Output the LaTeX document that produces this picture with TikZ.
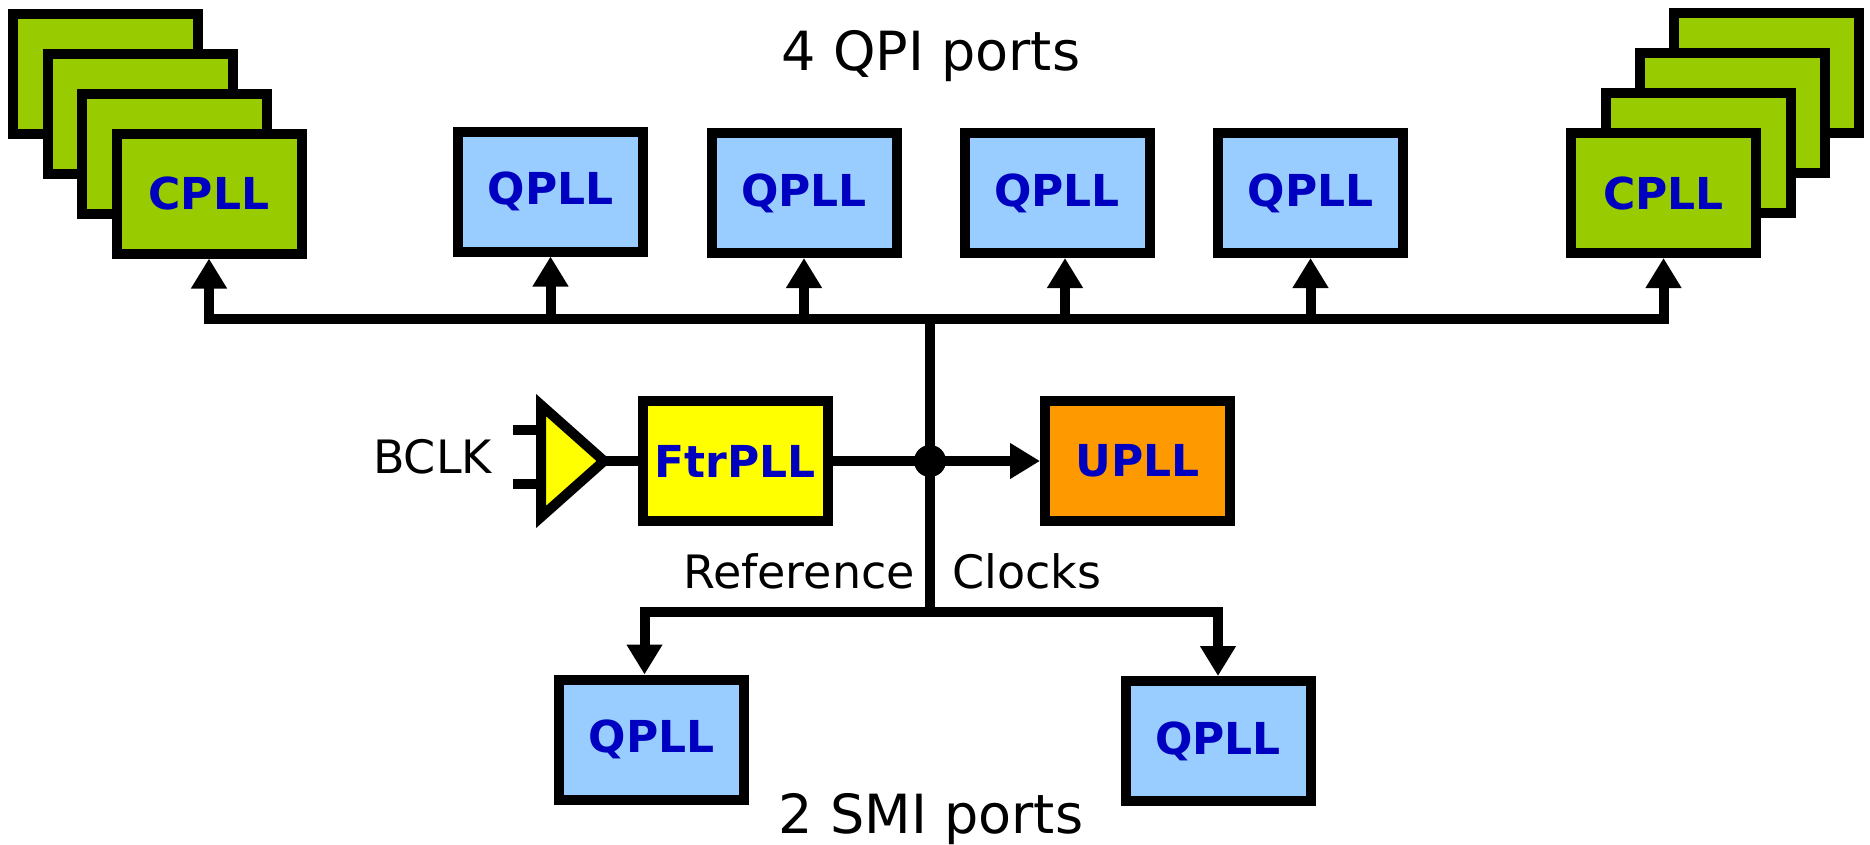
\documentclass[tikz,border=0pt]{standalone}
\usepackage{fontspec}
\setmainfont{DejaVu Sans}
\usetikzlibrary{arrows.meta}
\definecolor{cgreen}{RGB}{153,204,0}
\definecolor{qblue}{RGB}{153,204,255}
\definecolor{fyellow}{RGB}{255,255,0}
\definecolor{uorange}{RGB}{255,153,0}
\definecolor{labelblue}{RGB}{0,0,192}
\begin{document}
\begin{tikzpicture}[x=1pt,y=-1pt,
  blk/.style={draw=black, line width=10pt, minimum width=185pt, minimum height=120pt, inner sep=0pt,
    font=\fontsize{44}{50}\selectfont\bfseries, text=labelblue},
  wire/.style={line width=10pt},
  arr/.style={wire, -{Triangle[length=30pt,width=34pt]}},
  lbl/.style={inner sep=0pt, font=\fontsize{46}{52}\selectfont},
  ttl/.style={inner sep=0pt, font=\fontsize{54}{60}\selectfont}]
\useasboundingbox[fill=white] (0,0) rectangle (1870,844);

% left CPLL stack
\node[blk, fill=cgreen] (cl3) at (105.5,74) {};
\node[blk, fill=cgreen] (cl2) at (140,114) {};
\node[blk, fill=cgreen] (cl1) at (174.5,154) {};
\node[blk, fill=cgreen] (cplL) at (209,193.5) {CPLL};
% right CPLL stack
\node[blk, fill=cgreen] (cr3) at (1766.5,73) {};
\node[blk, fill=cgreen] (cr2) at (1732,113) {};
\node[blk, fill=cgreen] (cr1) at (1698,153) {};
\node[blk, fill=cgreen] (cplR) at (1663.5,193) {CPLL};
% top QPLLs
\node[blk, fill=qblue] (q1) at (550.5,191.5) {QPLL};
\node[blk, fill=qblue] (q2) at (804,193) {QPLL};
\node[blk, fill=qblue] (q3) at (1057,193) {QPLL};
\node[blk, fill=qblue] (q4) at (1310.5,193) {QPLL};
% middle
\node[blk, fill=fyellow] (ftr) at (735,461) {FtrPLL};
\node[blk, fill=uorange] (upll) at (1137.5,461) {UPLL};
% bottom QPLLs
\node[blk, fill=qblue] (qb1) at (651.5,739.5) {QPLL};
\node[blk, fill=qblue] (qb2) at (1218,741) {QPLL};

% bus
\coordinate (busL) at (209,319);
\coordinate (busR) at (1663.5,319);
\coordinate (trunkT) at (930,319);
\coordinate (junc) at (930,461);
\coordinate (trunkB) at (930,612);
\draw[wire, line cap=rect] (busL) -- (busR);
\draw[arr] (busL) -- (cplL.south);
\draw[arr] (busR) -- (cplR.south);
\draw[arr] (q1.south |- busL) -- (q1.south);
\draw[arr] (q2.south |- busL) -- (q2.south);
\draw[arr] ([xshift=8pt]q3.south |- busL) -- ([xshift=8pt]q3.south);
\draw[arr] (q4.south |- busL) -- (q4.south);
\draw[wire] (trunkT) -- (trunkB);
\draw[arr] (trunkB) -| ([xshift=-7pt]qb1.north);
\draw[arr] (trunkB) -| (qb2.north);
\draw[arr] (ftr.east) -- (upll.west);
\fill (junc) circle (16pt);

% input buffer
\coordinate (bufA) at (541,405);
\coordinate (bufB) at (541,517);
\coordinate (buftip) at (604,461);
\coordinate (in1) at (513,430);
\coordinate (in2) at (513,484);
\draw[wire, fill=fyellow, line join=miter] (bufA) -- (buftip) -- (bufB) -- cycle;
\draw[wire] (in1) -- (in1 -| bufA);
\draw[wire] (in2) -- (in2 -| bufA);
\draw[wire] (buftip) -- (ftr.west);

% labels
\node[ttl, anchor=base] (t1) at (931,70) {4 QPI ports};
\node[ttl, anchor=base] (t2) at (931,833) {2 SMI ports};
\node[lbl, anchor=base east] (ref) at (915,588) {Reference};
\node[lbl, anchor=base west] (clk) at (952,588) {Clocks};
\node[lbl, anchor=base east] (bclk) at (492,473) {BCLK};
\end{tikzpicture}
\end{document}
